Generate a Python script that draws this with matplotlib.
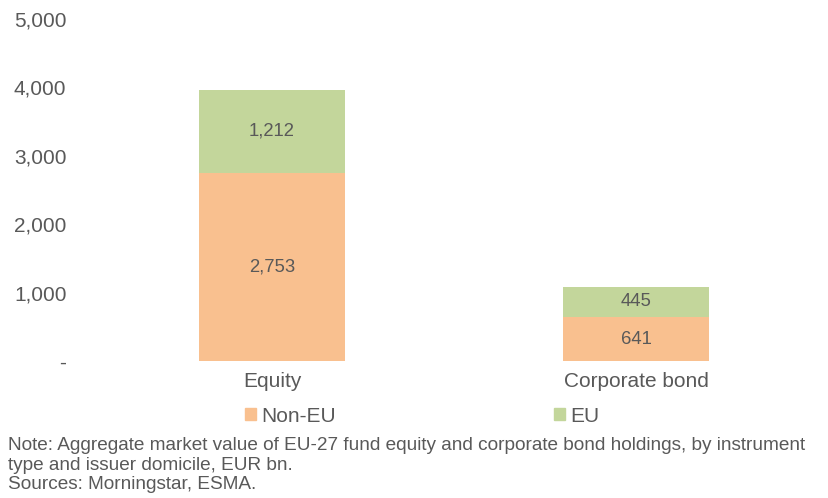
import matplotlib.pyplot as plt
from matplotlib.ticker import FuncFormatter
from matplotlib.patches import Patch

plt.rcParams['font.family'] = ['Liberation Sans', 'DejaVu Sans']

categories = ['Equity', 'Corporate bond']
non_eu = [2753, 641]
eu = [1212, 445]

TEXT = '#595959'
ORANGE = '#F9C08F'
GREEN = '#C3D69B'

fig = plt.figure(figsize=(8.29, 4.98), dpi=100)
ax = fig.add_axes([90 / 829, 1 - 361 / 498, 728 / 829, 342 / 498])

x = range(len(categories))
b1 = ax.bar(x, non_eu, width=0.4, color=ORANGE, label='Non-EU')
b2 = ax.bar(x, eu, width=0.4, bottom=non_eu, color=GREEN, label='EU')

# value labels in the middle of each segment
for bars, vals, bottoms in [(b1, non_eu, [0] * len(non_eu)), (b2, eu, non_eu)]:
    for bar, v, b in zip(bars, vals, bottoms):
        ax.text(bar.get_x() + bar.get_width() / 2, b + v / 2, f"{v:,}",
                ha='center', va='center', fontsize=13.3, color=TEXT)

ax.set_xlim(-0.5, 1.5)
ax.set_ylim(0, 5000)
ax.set_yticks(range(0, 5001, 1000))
ax.yaxis.set_major_formatter(FuncFormatter(lambda v, p: '-' if v == 0 else f"{int(v):,}"))
ax.set_xticks(list(x))
ax.set_xticklabels(categories)
ax.tick_params(axis='both', length=0, labelsize=15, colors=TEXT)
ax.tick_params(axis='y', pad=17)
ax.tick_params(axis='x', pad=8)
for s in ax.spines.values():
    s.set_visible(False)

handles = [Patch(color=ORANGE, label='Non-EU'), Patch(color=GREEN, label='EU')]
leg = fig.legend(handles=handles, loc='center left', bbox_to_anchor=(245 / 829, 1 - 416 / 498),
                 ncol=2, frameon=False, fontsize=15, handlelength=0.53, handleheight=0.53,
                 handletextpad=0.24, columnspacing=10.5, borderpad=0, borderaxespad=0,
                 labelcolor=TEXT)

fig.text(8 / 829, 1 - 465 / 498,
         "Note: Aggregate market value of EU-27 fund equity and corporate bond holdings, by instrument\n"
         "type and issuer domicile, EUR bn.\nSources: Morningstar, ESMA.",
         ha='left', va='center', fontsize=13.7, color=TEXT, linespacing=1.2)

fig.savefig('out.png', dpi=100)
